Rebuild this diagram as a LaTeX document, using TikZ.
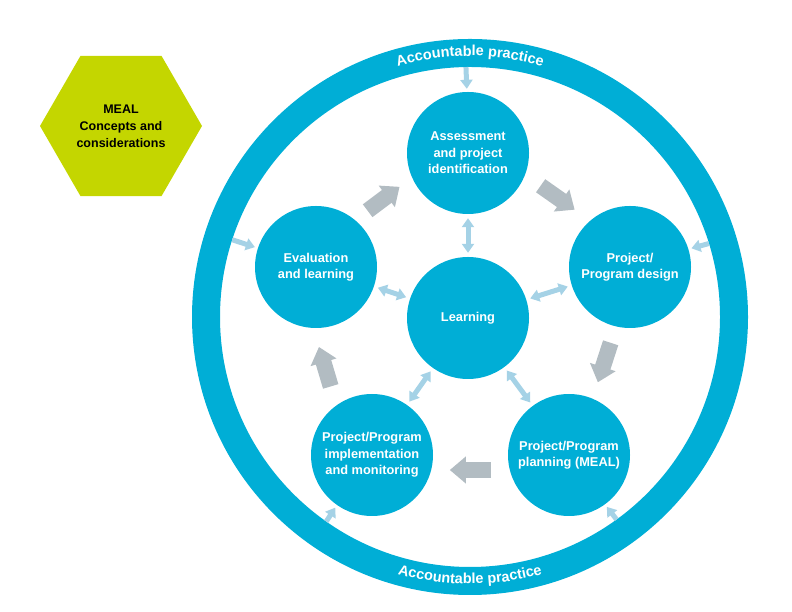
\documentclass[tikz,border=0pt]{standalone}
\usepackage{fontspec}
\setmainfont{Liberation Sans}
\usetikzlibrary{arrows.meta,calc,shapes.geometric,decorations.text}
\definecolor{mealblue}{RGB}{0,174,214}
\definecolor{mealgreen}{RGB}{196,214,0}
\definecolor{flowgray}{RGB}{178,188,194}
\definecolor{linkblue}{RGB}{165,210,230}
\newcommand{\ringlabel}{|\color{white}\bfseries\fontsize{14.5}{14.5}\selectfont|Accountable practice}

\begin{document}
\begin{tikzpicture}[x=1pt,y=1pt,
  stage/.style={circle,fill=mealblue,minimum size=122pt,inner sep=0pt,text=white,align=center,
    font=\bfseries\fontsize{12.8}{16.5}\selectfont},
  flowarrow/.style={draw=flowgray,line width=16pt,-{Triangle[length=16pt,width=26pt]}},
  linkarrow/.style={draw=linkblue,line width=5pt,{Triangle[length=9pt,width=12pt]}-{Triangle[length=9pt,width=12pt]},
    shorten <=4pt,shorten >=4pt},
  ringarrow/.style={draw=linkblue,line width=5pt,-{Triangle[length=9pt,width=12pt]},
    shorten <=14pt,shorten >=3pt}]
  \useasboundingbox (0,0) rectangle (792,612);

  % outer ring
  \node[circle,draw=mealblue,line width=28pt,minimum size=528pt,inner sep=0pt,outer sep=0pt] (ring) at (470,295) {};
  \path[decorate,decoration={text along path,text={\ringlabel},text align=center}]
    ([shift={(150:261)}]ring.center) arc[start angle=150,end angle=30,radius=261];
  \path[decorate,decoration={text along path,text={\ringlabel},text align=center}]
    ([shift={(215:267)}]ring.center) arc[start angle=215,end angle=325,radius=267];

  % hexagon
  \node[regular polygon,regular polygon sides=6,fill=mealgreen,minimum size=162pt,inner sep=0pt,align=center,
    font=\bfseries\fontsize{12.5}{17}\selectfont] (meal) at (121,486) {MEAL\\Concepts and\\considerations};

  % stages
  \node[stage] (assess) at (468,459) {Assessment\\and project\\identification};
  \node[stage] (design) at (630,345) {Project/\\Program design};
  \node[stage] (plan) at (569,157) {Project/Program\\planning (MEAL)};
  \node[stage] (impl) at (372,157) {Project/Program\\implementation\\and monitoring};
  \node[stage] (eval) at (316,345) {Evaluation\\and learning};
  \node[stage] (learn) at (468,294) {Learning};

  % cycle
  \draw[flowarrow] ($(assess)!.395!(design)!15pt!90:(design)$) -- ($(assess)!.605!(design)!15pt!90:(design)$);
  \draw[flowarrow] ($(design)!.395!(plan)!5pt!90:(plan)$) -- ($(design)!.605!(plan)!5pt!90:(plan)$);
  \draw[flowarrow] ($(plan)!.395!(impl)!15pt!90:(impl)$) -- ($(plan)!.605!(impl)!15pt!90:(impl)$);
  \draw[flowarrow] ($(impl)!.395!(eval)!20pt!90:(eval)$) -- ($(impl)!.605!(eval)!20pt!90:(eval)$);
  \draw[flowarrow] ($(eval)!.395!(assess)!14pt!90:(assess)$) -- ($(eval)!.605!(assess)!14pt!90:(assess)$);

  % learning links
  \draw[linkarrow] (learn) -- (assess);
  \draw[linkarrow] (learn) -- (design);
  \draw[linkarrow] (learn) -- (plan);
  \draw[linkarrow] (learn) -- (impl);
  \draw[linkarrow] (learn) -- (eval);

  % accountable practice
  \draw[ringarrow] (ring.91) -- (assess.91);
  \draw[ringarrow] (ring.17) -- (design.17);
  \draw[ringarrow] (ring.306) -- (plan.306);
  \draw[ringarrow] (ring.235) -- (impl.235);
  \draw[ringarrow] (ring.162) -- (eval.162);
\end{tikzpicture}
\end{document}
